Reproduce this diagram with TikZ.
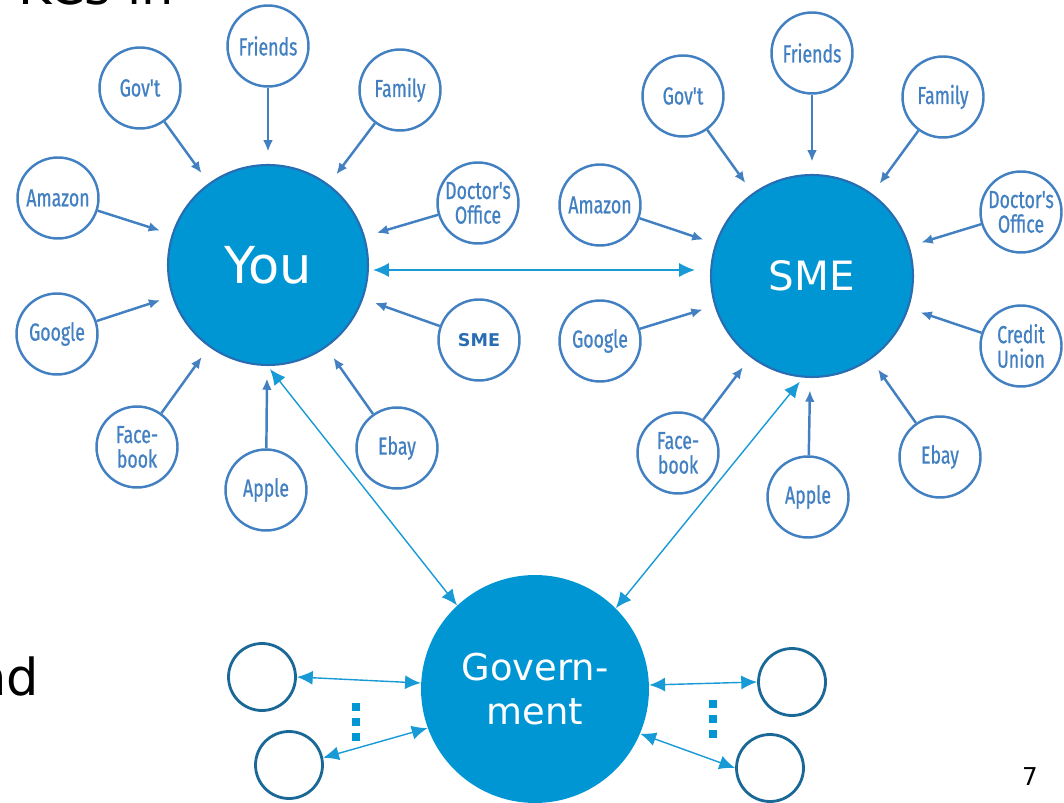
\documentclass[tikz,border=0pt]{standalone}
\usepackage{fontspec}
\setmainfont{DejaVu Sans}
\newfontfamily\tagfont[FakeStretch=0.72,FakeBold=0.8]{Fira Sans}
\usetikzlibrary{positioning,arrows,arrows.meta}

\definecolor{hubblue}{RGB}{0,150,212}
\definecolor{hubrim}{RGB}{40,108,178}
\definecolor{tagblue}{RGB}{66,128,194}
\definecolor{linkblue}{RGB}{24,154,214}
\definecolor{peerblue}{RGB}{26,104,150}

\tikzset{
    x=0.02cm,
    y=-0.02cm,
    hub/.style = {
        shape=circle,
        fill=hubblue,
        text=white,
        inner sep=0pt
    },
    tag/.style = {
        draw=tagblue,
        shape=circle,
        line width=1.4pt,
        minimum size=16.2mm,
        inner sep=0pt,
        align=center,
        text=tagblue,
        font=\tagfont\fontsize{14}{14}\selectfont
    },
    peer/.style = {
        draw=peerblue,
        shape=circle,
        line width=1.6pt,
        minimum size=13.4mm
    },
    feed/.style = {
        draw=tagblue,
        line width=1.4pt,
        -{Latex[length=6.5pt,width=5.5pt]},
        shorten >=7pt
    },
    link/.style = {
        draw=linkblue,
        line width=0.8pt,
        {Latex[length=9pt,width=8pt]}-{Latex[length=9pt,width=8pt]}
    },
    slide/.style = {
        inner sep=0pt,
        font=\fontsize{29}{29}\selectfont
    },
}

\begin{document}
\begin{tikzpicture}
    \useasboundingbox (0,0) rectangle (1064,803);

    % slide text around the figure
    \node[slide, anchor=base west] (head) at (18,5) {KCs in};
    \node[slide, anchor=base east] (side) at (39,695) {nd};
    \node[inner sep=0pt, anchor=base, font=\fontsize{14}{14}\selectfont] (page) at (1030,785) {7};

    % the three hubs
    \node[hub, draw=hubrim, line width=1.2pt, minimum size=40mm, font=\fontsize{29}{29}\selectfont] (you) at (268,265) {You};
    \node[hub, draw=hubrim, line width=1.2pt, minimum size=40.4mm, font=\fontsize{23}{23}\selectfont] (sme) at (812,276) {SME};
    \node[hub, minimum size=45.6mm, align=center, font=\fontsize{21}{25.5}\selectfont] (gov) at (535,689) {Govern-\\ment};

    % sources around you
    \node[tag] (friendsL) at (268,46) {Friends};
    \node[tag] (govtL) at (140,88) {Gov't};
    \node[tag] (familyL) at (400,90) {Family};
    \node[tag] (amazonL) at (58,198) {Amazon};
    \node[tag] (doctorL) at (478,203) {Doctor's\\Office};
    \node[tag] (googleL) at (57,334) {Google};
    \node[tag, font=\bfseries\fontsize{10}{10}\selectfont, text=hubrim] (smeL) at (479,340) {SME};
    \node[tag] (facebookL) at (137,447) {Face-\\book};
    \node[tag] (appleL) at (266,490) {Apple};
    \node[tag] (ebayL) at (397,448) {Ebay};

    % sources around the sme
    \node[tag] (friendsR) at (812,53) {Friends};
    \node[tag] (govtR) at (683,96) {Gov't};
    \node[tag] (familyR) at (943,97) {Family};
    \node[tag] (amazonR) at (600,205) {Amazon};
    \node[tag] (doctorR) at (1021,212) {Doctor's\\Office};
    \node[tag] (googleR) at (600,341) {Google};
    \node[tag] (creditR) at (1021,346) {Credit\\Union};
    \node[tag] (facebookR) at (678,453) {Face-\\book};
    \node[tag] (appleR) at (808,497) {Apple};
    \node[tag] (ebayR) at (940,457) {Ebay};

    % peers of the government
    \node[peer] (peerLT) at (262,677) {};
    \node[peer] (peerLB) at (289,765) {};
    \node[peer] (peerRT) at (792,682) {};
    \node[peer] (peerRB) at (770,768) {};
    \coordinate (moreL) at (356,703);
    \coordinate (moreR) at (713,700);
    \foreach \k in {0,1,2} {
        \fill[hubblue] ([shift={(-4,15*\k)}]moreL) rectangle ++(8,8);
        \fill[hubblue] ([shift={(-4,15*\k)}]moreR) rectangle ++(8,8);
    }

    \foreach \src in {friendsL,govtL,familyL,amazonL,doctorL,googleL,smeL,facebookL,appleL,ebayL}
        \path[feed] (\src) -- (you);
    \foreach \src in {friendsR,govtR,familyR,amazonR,doctorR,googleR,creditR,facebookR,appleR,ebayR}
        \path[feed] (\src) -- (sme);

    \path[link] ([shift={(4,5)}]you.east) -- ([shift={(-15,-6)}]sme.west);
    \path[link] ([shift={(2,3)}]you.south) -- (gov.133);
    \path[link, shorten <=3pt] (sme.265) -- (gov.45);
    \path[link] (peerLT.east) -- (gov.177);
    \path[link] (peerLB.12) -- (gov.200);
    \path[link] (gov.2) -- (peerRT.west);
    \path[link] (gov.337) -- (peerRB.west);
\end{tikzpicture}
\end{document}
